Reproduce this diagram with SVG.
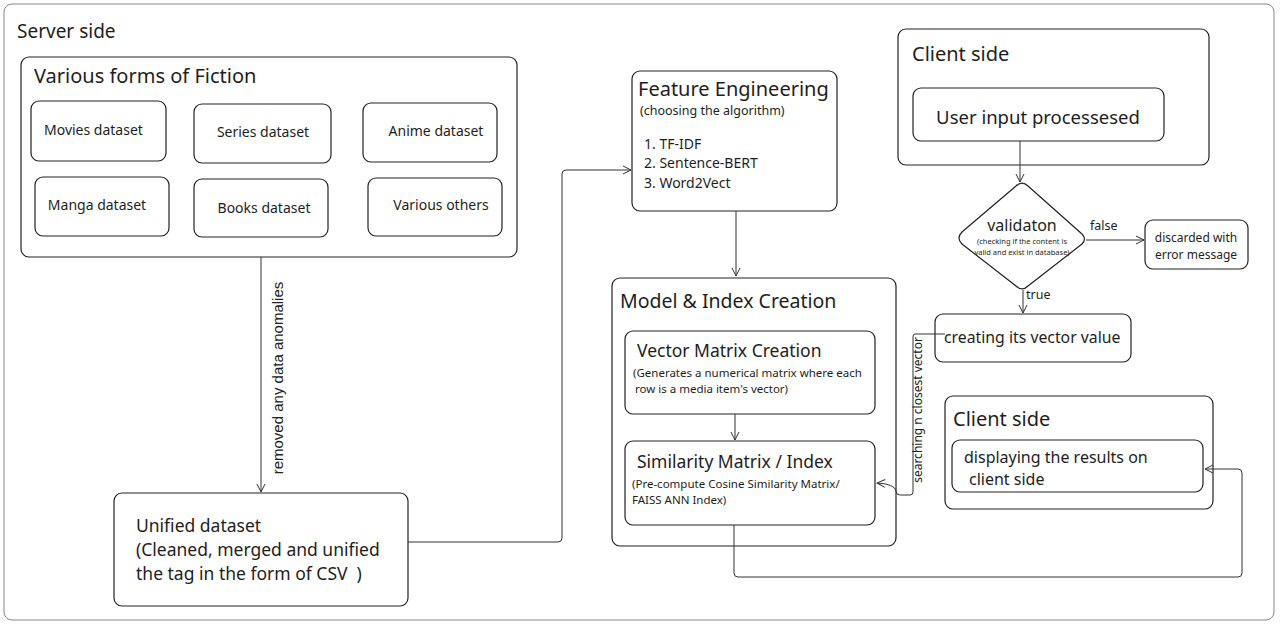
<svg xmlns="http://www.w3.org/2000/svg" width="1280" height="625" viewBox="0 0 1280 625">
<defs>
<marker id="arr" viewBox="0 0 10 10" refX="9" refY="5" markerWidth="10" markerHeight="10" markerUnits="userSpaceOnUse" orient="auto">
<path d="M1,1 L9,5 L1,9" fill="none" stroke="#333" stroke-width="1"/>
</marker>
<style>
.box{fill:#fff;stroke:#222;stroke-width:1.2}
.frame{fill:#fff;stroke:#888;stroke-width:1}
.t{font-family:"Noto Sans","Open Sans",sans-serif;fill:#1e1e1e}
.c{fill:none;stroke:#333;stroke-width:1}
</style>
</defs>
<rect x="0" y="0" width="1280" height="625" fill="#fff"/>
<g id="server-side">
<rect class="frame" x="4" y="4" width="1270" height="616" rx="8"/>
<text class="t" x="17" y="38" font-size="19">Server side</text>
</g>
<g id="fiction">
<rect class="box" x="21" y="57" width="496" height="200" rx="8"/>
<text class="t" x="34" y="83" font-size="20">Various forms of Fiction</text>
</g>
<g id="movies"><rect class="box" x="31" y="101" width="135" height="60" rx="8"/><text class="t" x="44" y="135" font-size="14">Movies dataset</text></g>
<g id="series"><rect class="box" x="194" y="104" width="137" height="59" rx="8"/><text class="t" x="263" y="137" font-size="14" text-anchor="middle">Series dataset</text></g>
<g id="anime"><rect class="box" x="363" y="103" width="134" height="59" rx="8"/><text class="t" x="436" y="136" font-size="14" text-anchor="middle">Anime dataset</text></g>
<g id="manga"><rect class="box" x="35" y="177" width="134" height="59" rx="8"/><text class="t" x="97" y="210" font-size="14" text-anchor="middle">Manga dataset</text></g>
<g id="books"><rect class="box" x="194" y="179" width="134" height="58" rx="8"/><text class="t" x="264" y="213" font-size="14" text-anchor="middle">Books dataset</text></g>
<g id="others"><rect class="box" x="368" y="178" width="134" height="58" rx="8"/><text class="t" x="441" y="210" font-size="14" text-anchor="middle">Various others</text></g>
<g id="unified">
<rect class="box" x="114" y="493" width="294" height="113" rx="8"/>
<text class="t" x="136" y="532" font-size="17.5">Unified dataset</text>
<text class="t" x="136" y="556" font-size="17.5">(Cleaned, merged and unified</text>
<text class="t" x="136" y="580" font-size="17.5" xml:space="preserve">the tag in the form of CSV  )</text>
</g>
<g id="feature">
<rect class="box" x="632" y="71" width="205" height="140" rx="8"/>
<text class="t" x="638" y="96" font-size="20">Feature Engineering</text>
<text class="t" x="640" y="115" font-size="12.5">(choosing the algorithm)</text>
<text class="t" x="644" y="149" font-size="14">1. TF-IDF</text>
<text class="t" x="644" y="168" font-size="14">2. Sentence-BERT</text>
<text class="t" x="644" y="188" font-size="14">3. Word2Vect</text>
</g>
<g id="model">
<rect class="box" x="612" y="278" width="284" height="268" rx="8"/>
<text class="t" x="620" y="308" font-size="19.5">Model &amp; Index Creation</text>
</g>
<g id="vector">
<rect class="box" x="625" y="331" width="250" height="83" rx="8"/>
<text class="t" x="637" y="357" font-size="17.5">Vector Matrix Creation</text>
<text class="t" x="633" y="377" font-size="11.5">(Generates a numerical matrix where each</text>
<text class="t" x="635" y="393" font-size="11.5">row is a media item's vector)</text>
</g>
<g id="similarity">
<rect class="box" x="625" y="441" width="250" height="84" rx="8"/>
<text class="t" x="637" y="468" font-size="17.5">Similarity Matrix / Index</text>
<text class="t" x="632" y="488" font-size="11.5">(Pre-compute Cosine Similarity Matrix/</text>
<text class="t" x="632" y="504" font-size="11.5">FAISS ANN Index)</text>
</g>
<g id="client-top">
<rect class="box" x="898" y="29" width="311" height="136" rx="8"/>
<text class="t" x="912" y="61" font-size="20">Client side</text>
</g>
<g id="user-input">
<rect class="box" x="913" y="88" width="251" height="53" rx="8"/>
<text class="t" x="1038" y="124" font-size="18.5" text-anchor="middle">User input processesed</text>
</g>
<g id="validation">
<path class="box" d="M1016,186 Q1022,180 1028,186 L1082,234 Q1087,239 1082,244 L1028,286 Q1022,292 1016,286 L962,244 Q956,238 962,232 Z"/>
<text class="t" x="1022" y="231" font-size="16" text-anchor="middle">validaton</text>
<text class="t" x="1022" y="244" font-size="7.5" text-anchor="middle">(checking if the content is</text>
<text class="t" x="1022" y="255" font-size="7.5" text-anchor="middle">valid and exist in database)</text>
</g>
<g id="discarded">
<rect class="box" x="1145" y="220" width="103" height="49" rx="8"/>
<text class="t" x="1196" y="242" font-size="12" text-anchor="middle">discarded with</text>
<text class="t" x="1196" y="259" font-size="12" text-anchor="middle">error message</text>
</g>
<g id="creating">
<rect class="box" x="935" y="314" width="196" height="48" rx="8"/>
<text class="t" x="944" y="343" font-size="15.8">creating its vector value</text>
</g>
<g id="client-bottom">
<rect class="box" x="945" y="396" width="268" height="113" rx="8"/>
<text class="t" x="953" y="426" font-size="20">Client side</text>
</g>
<g id="displaying">
<rect class="box" x="952" y="440" width="251" height="52" rx="8"/>
<text class="t" x="964" y="463" font-size="16">displaying the results on</text>
<text class="t" x="969" y="485" font-size="16">client side</text>
</g>
<g id="connectors">
<path class="c" d="M261,257 V492" marker-end="url(#arr)"/>
<text x="0" y="0" transform="translate(283,378) rotate(-90)" font-family="'Liberation Sans',Arial,sans-serif" font-size="15" fill="#222" text-anchor="middle">removed any data anomalies</text>
<path class="c" d="M408,542 H558 Q562,542 562,538 V174 Q562,170 566,170 H631" marker-end="url(#arr)"/>
<path class="c" d="M736,211 V276" marker-end="url(#arr)"/>
<path class="c" d="M735,414 V440" marker-end="url(#arr)"/>
<path class="c" d="M1020,141 V182" marker-end="url(#arr)"/>
<path class="c" d="M1086,240 H1144" marker-end="url(#arr)"/>
<text class="t" x="1090" y="230" font-size="12.5">false</text>
<path class="c" d="M1023,290 V313" marker-end="url(#arr)"/>
<text class="t" x="1026" y="299" font-size="12.5">true</text>
<path class="c" d="M945,334 H915 Q913,334 913,337 V492 Q913,495 910,495 H900 Q896,495 896,491 Q895,484 877,483" marker-end="url(#arr)"/>
<text x="0" y="0" transform="translate(922,410) rotate(-90)" font-family="'Noto Sans','Open Sans',sans-serif" font-size="12" fill="#222" text-anchor="middle">searching n closest vector</text>
<path class="c" d="M734,525 V573 Q734,577 738,577 H1238 Q1242,577 1242,573 V473 Q1242,469 1238,469 H1205" marker-end="url(#arr)"/>
</g>
</svg>
